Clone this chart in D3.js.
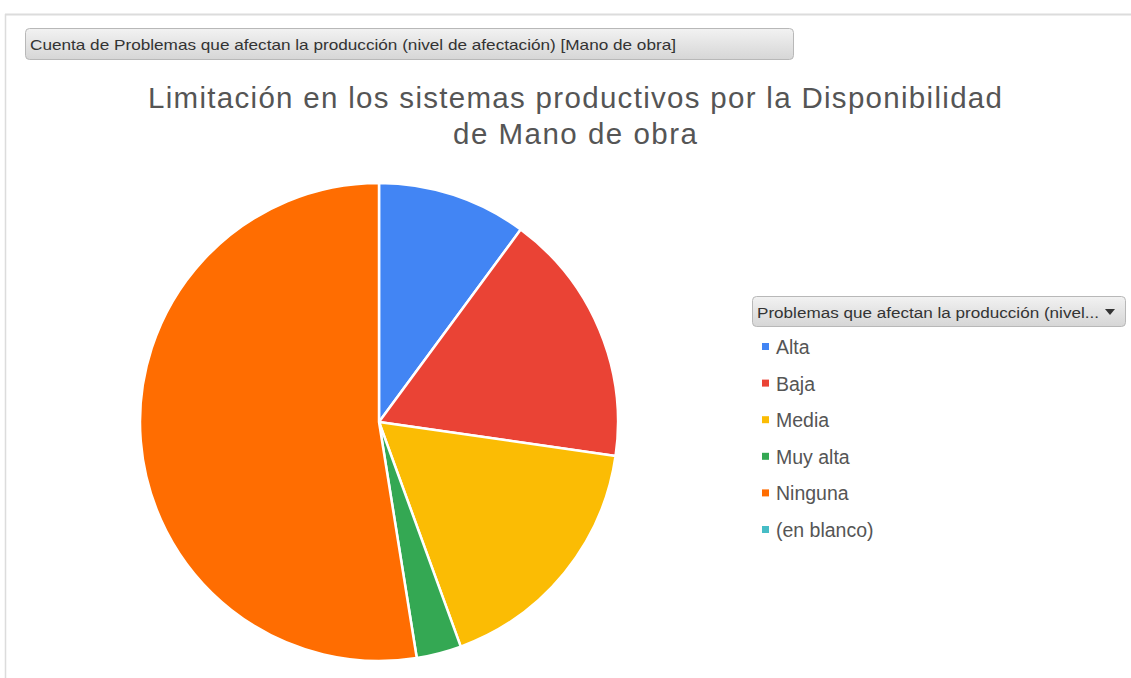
<!DOCTYPE html>
<html><head><meta charset="utf-8">
<script src="https://cdn.jsdelivr.net/npm/d3@7"></script>
<style>body{margin:0;background:#fff}svg{display:block}</style>
</head><body>
<svg id="c" width="1131" height="678"></svg>
<script>
const categories = ["Alta","Baja","Media","Muy alta","Ninguna","(en blanco)"];
const values = [10,17,17,3,52,0];
const colors = ["#4285F4","#EA4335","#FBBC04","#34A853","#FF6D01","#46BDC6"];
const titleLines = ["Limitación en los sistemas productivos por la Disponibilidad","de Mano de obra"];
const headerText = "Cuenta de Problemas que afectan la producción (nivel de afectación) [Mano de obra]";
const legendHeader = "Problemas que afectan la producción (nivel...";

const svg = d3.select("#c");
const defs = svg.append("defs");
const g1 = defs.append("linearGradient").attr("id","btn").attr("x1",0).attr("y1",0).attr("x2",0).attr("y2",1);
g1.append("stop").attr("offset","0%").attr("stop-color","#f2f2f2");
g1.append("stop").attr("offset","100%").attr("stop-color","#d6d6d6");

// frame
svg.append("line").attr("x1",5).attr("y1",14.5).attr("x2",1131).attr("y2",14.5).attr("stroke","#dcdcdc").attr("stroke-width",2);
svg.append("line").attr("x1",5.5).attr("y1",14).attr("x2",5.5).attr("y2",678).attr("stroke","#dcdcdc").attr("stroke-width",1.5);

// header button
svg.append("rect").attr("x",25.5).attr("y",28.5).attr("width",768).attr("height",31).attr("rx",4)
  .attr("fill","url(#btn)").attr("stroke","#b8b8b8");
svg.append("text").attr("x",30).attr("y",50).attr("font-family","Liberation Sans, Arial, sans-serif")
  .attr("font-size",14.5).attr("fill","#333").attr("textLength",646).attr("lengthAdjust","spacingAndGlyphs").text(headerText);

// title
const titleWidths = [854, 244];
svg.append("g").selectAll("text").data(titleLines).join("text")
  .attr("x",575).attr("y",(d,i)=>108+i*36).attr("text-anchor","middle")
  .attr("font-family","Liberation Sans, Arial, sans-serif").attr("font-size",29.5).attr("fill","#555")
  .attr("textLength",(d,i)=>titleWidths[i]).attr("lengthAdjust","spacing")
  .text(d=>d);

// pie
const cx=379, cy=422, r=239;
const pie = d3.pie().sort(null).value(d=>d.v);
const arc = d3.arc().innerRadius(0).outerRadius(r);
const data = categories.map((c,i)=>({c,v:values[i],col:colors[i]}));
svg.append("g").attr("transform",`translate(${cx},${cy})`)
  .selectAll("path").data(pie(data).filter(d=>d.data.v>0)).join("path")
  .attr("d",arc).attr("fill",d=>d.data.col).attr("stroke","#fff").attr("stroke-width",2.5).attr("stroke-linejoin","round");

// legend button
svg.append("rect").attr("x",752.5).attr("y",296.5).attr("width",373).attr("height",30).attr("rx",4)
  .attr("fill","url(#btn)").attr("stroke","#b8b8b8");
svg.append("text").attr("x",757).attr("y",318).attr("font-family","Liberation Sans, Arial, sans-serif")
  .attr("font-size",15.5).attr("fill","#333").attr("textLength",342).attr("lengthAdjust","spacingAndGlyphs").text(legendHeader);
svg.append("path").attr("d","M1105,309 L1115,309 L1110,315 Z").attr("fill","#333");

// legend items
const y = d3.scalePoint().domain(categories).range([347,530]);
const leg = svg.append("g").selectAll("g").data(data).join("g").attr("transform",d=>`translate(0,${y(d.c)})`);
leg.append("rect").attr("x",762).attr("y",-4).attr("width",7).attr("height",7).attr("fill",d=>d.col);
leg.append("text").attr("x",776).attr("y",7).attr("font-family","Liberation Sans, Arial, sans-serif")
  .attr("font-size",19.5).attr("fill","#555").text(d=>d.c);
</script>
</body></html>
